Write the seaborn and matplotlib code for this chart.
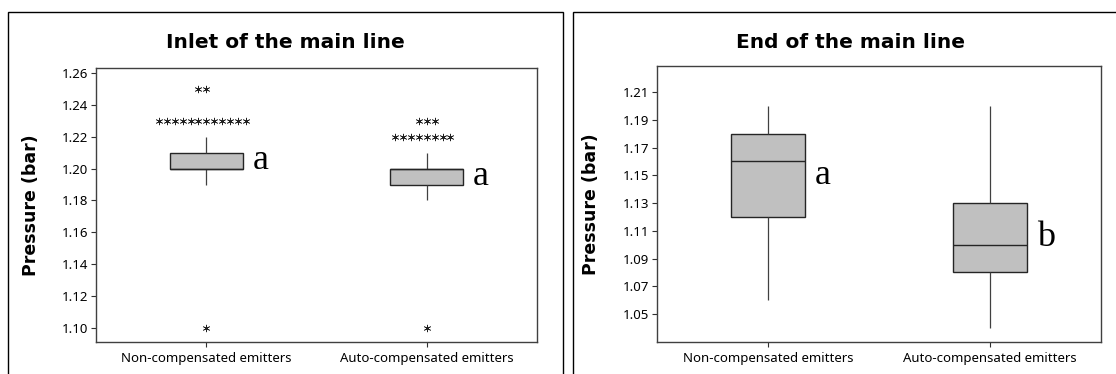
import matplotlib
matplotlib.use("Agg")
import matplotlib.pyplot as plt
import numpy as np
import pandas as pd
import seaborn as sns
from matplotlib.patches import Rectangle

groups = ["Non-compensated emitters", "Auto-compensated emitters"]

# Inlet of the main line: pressure readings (bar) and how many emitters gave each
inlet_nc_values = [1.10, 1.19, 1.20, 1.21, 1.22, 1.23, 1.25]
inlet_nc_counts = [1, 10, 60, 30, 10, 12, 2]
inlet_ac_values = [1.10, 1.18, 1.19, 1.20, 1.21, 1.22, 1.23]
inlet_ac_counts = [1, 10, 40, 50, 13, 8, 3]

# End of the main line
end_nc_values = [1.06, 1.12, 1.16, 1.18, 1.20]
end_nc_counts = [1, 2, 1, 2, 1]
end_ac_values = [1.04, 1.08, 1.10, 1.13, 1.20]
end_ac_counts = [1, 2, 1, 2, 1]

inlet_letters = ["a", "a"]
end_letters = ["a", "b"]

inlet_ticks = [1.10, 1.12, 1.14, 1.16, 1.18, 1.20, 1.22, 1.24, 1.26]
end_ticks = [1.05, 1.07, 1.09, 1.11, 1.13, 1.15, 1.17, 1.19, 1.21]

W, H = 1116, 374
BOLD = ["DejaVu Sans"]


def make_frame(nc_vals, nc_counts, ac_vals, ac_counts):
    parts = []
    for g, vals, cnts in zip(groups, [nc_vals, ac_vals], [nc_counts, ac_counts]):
        parts.append(pd.DataFrame({"group": g, "pressure": np.repeat(vals, cnts)}))
    return pd.concat(parts, ignore_index=True)


def outliers(df):
    parts = []
    for g in groups:
        sub = df[df["group"] == g]
        q1, q3 = sub["pressure"].quantile([0.25, 0.75])
        iqr = q3 - q1
        mask = (sub["pressure"] < q1 - 1.5 * iqr - 1e-9) | (sub["pressure"] > q3 + 1.5 * iqr + 1e-9)
        parts.append(sub[mask])
    return pd.concat(parts, ignore_index=True)


sns.set_theme(style="ticks")
plt.rcParams["font.family"] = ["Noto Sans", "DejaVu Sans"]
plt.rcParams.update({"text.color": "black", "axes.labelcolor": "black",
                     "xtick.color": "black", "ytick.color": "black"})

fig = plt.figure(figsize=(W / 100, H / 100), dpi=100)

# panel frames
fig.add_artist(Rectangle((8 / W, -0.1), 555 / W, 1.1 - 12 / H, transform=fig.transFigure,
                         fill=False, lw=1.0, ec="black"))
fig.add_artist(Rectangle((573 / W, -0.1), 600 / W, 1.1 - 12 / H, transform=fig.transFigure,
                         fill=False, lw=1.0, ec="black"))

panels = [
    dict(df=make_frame(inlet_nc_values, inlet_nc_counts, inlet_ac_values, inlet_ac_counts),
         letters=inlet_letters, ticks=inlet_ticks, ylim=(1.0912, 1.2631),
         rect=[96 / W, 1 - 342 / H, 441 / W, 274 / H], title="Inlet of the main line",
         title_x=285.5 / W),
    dict(df=make_frame(end_nc_values, end_nc_counts, end_ac_values, end_ac_counts),
         letters=end_letters, ticks=end_ticks, ylim=(1.0298, 1.2288),
         rect=[657 / W, 1 - 342 / H, 444 / W, 276 / H], title="End of the main line",
         title_x=850 / W),
]

box_w = 0.33
for p in panels:
    ax = fig.add_axes(p["rect"])
    df = p["df"]
    sns.boxplot(data=df, x="group", y="pressure", order=groups, ax=ax, width=box_w,
                color="#C0C0C0", linecolor="#252525", linewidth=1.0, showcaps=False,
                showfliers=False, saturation=1,
                whiskerprops=dict(color="#404040", lw=0.9),
                medianprops=dict(color="#252525", lw=1.0))
    out = outliers(df)
    if len(out):
        sns.swarmplot(data=out, x="group", y="pressure", order=groups, ax=ax,
                      color="#202020", marker=(6, 2, 0), size=4.9, linewidth=0.5)

    for i, g in enumerate(groups):
        q1, q3 = df.loc[df["group"] == g, "pressure"].quantile([0.25, 0.75])
        ax.text(i + box_w / 2 + 0.045, (q1 + q3) / 2, p["letters"][i], ha="left",
                va="center", fontsize=26, family=["Liberation Serif", "DejaVu Serif"])

    ax.set_ylim(*p["ylim"])
    ax.set_xlim(-0.5, 1.5)
    ax.set_yticks(p["ticks"])
    ax.set_yticklabels([f"{t:.2f}" for t in p["ticks"]])
    ax.set_xlabel("")
    ax.set_ylabel("Pressure (bar)", fontsize=12.5, fontweight="bold", family=BOLD)
    ax.yaxis.set_label_coords(-0.128, 0.5)
    ax.tick_params(axis="both", direction="out", length=3.5, width=0.8, color="#303030",
                   labelsize=9.5, pad=2)
    ax.tick_params(axis="x", pad=4)
    for s in ax.spines.values():
        s.set_visible(True)
        s.set_color("#404040")
        s.set_linewidth(1.0)
    fig.text(p["title_x"], 1 - 42 / H, p["title"], ha="center", va="center",
             fontsize=14.5, fontweight="bold", family=BOLD)

fig.savefig("out.png", dpi=100)
